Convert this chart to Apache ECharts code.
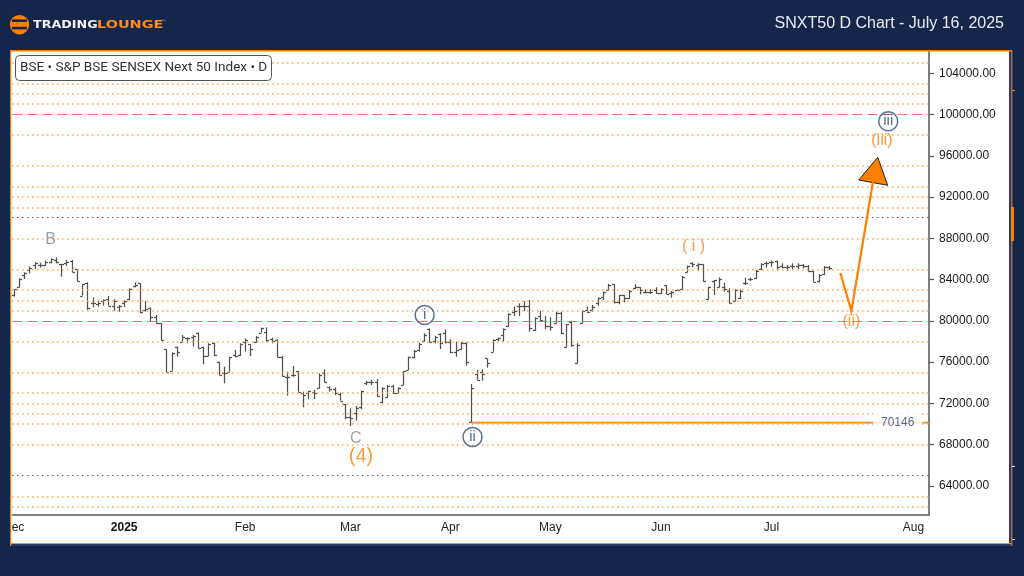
<!DOCTYPE html>
<html>
<head>
<meta charset="utf-8">
<style>html,body{margin:0;padding:0;background:#15264b}#c{width:1024px;height:576px}</style>
<script src="https://cdn.jsdelivr.net/npm/echarts@6/dist/echarts.min.js"></script>
</head>
<body>
<div id="c"></div>
<script>
// [open, high, low, close], one row per trading day
const ohlc = [
[82510,83060,82350,83060],[83250,84130,83250,84060],[84450,84710,84060,84610],[84930,85260,84610,85090],
[85420,85680,85030,85580],[85420,85640,85160,85420],[85420,85840,85350,85740],[85740,86060,85580,85970],
[85900,86160,85580,85680],[85510,85510,84290,85510],[85580,85900,85320,85740],[85840,85900,84710,84770],
[84990,85030,83830,83870],[82450,83540,82450,83540],[83640,83740,81060,81220],[81770,82280,81310,81700],
[81640,81960,81380,81770],[81930,82090,81480,81990],[82090,82410,81480,81480],[81480,82090,80960,81960],
[81350,81540,80890,81480],[81770,81990,81350,81930],[82090,83160,82020,83090],[83380,83740,83250,83480],
[83640,83640,80730,80830],[81060,81930,80890,81120],[81280,81310,79990,80410],[80410,80570,79770,79770],
[79770,79770,78090,78120],[77240,77240,75020,75020],[75180,76950,75180,76860],[77500,77500,76530,77020],
[77990,78630,77990,78410],[78310,78410,77830,78310],[78410,78630,77500,78570],[78800,78890,77340,77340],
[77500,77500,75790,76630],[76630,77830,76600,77760],[77830,77890,76630,76700],[76050,76050,74760,74760],
[74980,75560,73950,74980],[75080,76530,75080,76530],[76700,77180,76470,76600],[76700,77830,76630,77760],
[77990,78310,77020,78150],[77730,77730,76600,77240],[77920,78540,77920,78470],[78860,79340,78860,79280],
[78960,79380,77990,78150],[78210,78380,77830,78080],[78150,78210,76470,76530],[76530,76600,74600,74660],
[74600,75080,72760,74600],[74760,75630,74600,74760],[75150,75150,73140,73140],[73050,73140,71630,72820],
[73050,73240,72400,73240],[73080,73300,72430,72980],[73470,74920,73470,74760],[74920,75310,74050,74110],
[73560,73630,73140,73370],[73370,73560,72820,72980],[72880,73050,72270,72270],[71950,71950,70460,70720],
[70720,71530,69820,70560],[71040,71750,70330,71530],[71630,73240,71460,73240],[74020,74180,73790,74050],
[74110,74270,73790,74110],[74110,74340,72660,72760],[72110,73560,72010,73470],[72660,73790,72560,73690],
[73690,73790,72920,72980],[72980,73560,72980,73470],[73790,75150,73790,75150],[75240,76530,75240,76530],
[76470,77180,76370,77120],[77180,77890,77020,77760],[78080,78800,77990,78630],[79220,79280,77920,77990],
[78080,78540,77830,78410],[78730,78800,77280,77830],[78800,79180,77830,77990],[77990,78210,76860,77020],
[77020,77990,76530,77180],[77250,77990,77180,77890],[77890,77920,75660,75990],[70200,73890,70146,73470],
[74860,75240,74270,74270],[75080,75310,74210,74860],[76370,76370,75470,75890],[77020,78210,77020,78150],
[78210,78380,78050,78310],[78630,79280,77990,79180],[79510,80730,79440,80670],[80890,81380,80480,80990],
[81440,81700,80480,81480],[81480,81930,80960,81480],[81480,82030,78960,79340],[79120,80350,79050,80250],
[80480,80960,79990,80090],[80020,80480,79180,79540],[79540,80350,79050,79380],[79760,80890,79760,80800],
[80800,80890,78730,78800],[77440,79700,77440,79670],[79930,80020,77500,77660],[75890,77830,75890,77660],
[79760,81060,79760,80960],[81060,81380,80800,80890],[81060,81540,80890,81380],[81700,82280,81480,82190],
[82280,82830,82030,82770],[82990,83580,82930,83480],[83540,83540,81700,81800],[81800,82510,81610,82480],
[82480,82510,81800,82190],[82190,82990,82120,82930],[83160,83540,83090,83260],[83260,83260,82570,82990],
[82830,83060,82670,82830],[82830,83060,82610,82830],[82990,83260,82610,82670],[82670,83160,82610,83060],
[83480,83480,82570,82570],[82670,82900,82250,82830],[82960,83060,82900,82990],[83060,84350,83060,84290],
[84710,85350,84710,85350],[85580,85680,85190,85510],[85420,85580,84870,85510],[85480,85480,83800,83870],
[82120,83320,82090,83260],[83900,83960,82510,83960],[83320,84220,83260,84030],[83260,83700,82830,83060],
[82930,83160,81700,81770],[81930,83060,81930,82990],[82190,83060,82120,82930],[83640,84190,83480,83700],
[84030,84190,83870,84030],[84130,84930,84060,84870],[85000,85580,84930,85510],[85580,85740,85160,85580],
[85670,85840,85260,85740],[85810,85840,84930,85260],[85350,85580,85090,85260],[85260,85420,84870,85260],
[85350,85580,85030,85350],[85350,85580,85030,85420],[85420,85510,85090,85350],[85350,85420,84770,84870],
[84870,84870,83800,83800],[83900,84540,83740,84450],[84540,85320,84450,85260],[85260,85320,84930,85090]
];
const priceTicks = [64000,68000,72000,76000,80000,84000,88000,92000,96000,100000,104000];
const monthLabels = ['Dec','2025','Feb','Mar','Apr','May','Jun','Jul','Aug'];
const monthBars = [0,21,44,64,83,102,123,144,171];
const orangeLevels = [105000,103000,102000,101000,98000,95000,93000,92000,91000,88000,85000,83000,82000,81000,78000,75000,73000,72000,71000,70000,68000,63000,62000];
const redLevels = [100000,80000];
const blackLevels = [90000,65000];
const projection = [[157.1,84640],[159.2,80960],[163.3,93460]];
const arrowHead = [[164.2,95850],[160.6,93650],[166.1,93140]];
const invalidation = 70146;
const invalidationSpan = [87,174];
const invalidationLabelBar = 168;
const grayWave = [['B',7,87840],['C',65,68560]];
const orangeWave = [['( i )',129.2,87160],['(ii)',159.2,79890],['(iii)',165,97460]];
const degreeWave = [['(4)',66,66910]];
const circledWave = [['i',78.1,80570],['ii',87.2,68750],['iii',166.2,99350]];

const NAVY = '#15264b', ORANGE = '#ff7f00', SANS = '"Liberation Sans", Arial, sans-serif';

function levelSeries(levels, style) {
  return { type:'line', data:[], silent:true, z:1,
    markLine:{ silent:true, symbol:'none', animation:false, label:{show:false}, lineStyle:style,
      emphasis:{disabled:true}, data:levels.map(v=>({yAxis:v})) } };
}
function textSeries(rows, color, size) {
  return { type:'scatter', z:6, silent:true, symbolSize:0, clip:false,
    data:rows.map(r=>({value:[r[1],r[2]], text:r[0]})),
    label:{ show:true, position:'inside', color, fontSize:size, fontFamily:SANS,
      formatter:p=>p.data.text } };
}

const chart = echarts.init(document.getElementById('c'), null, {renderer:'canvas'});
chart.setOption({
  animation:false,
  backgroundColor:NAVY,
  grid:{left:11,right:95,top:51,bottom:61,containLabel:false},
  xAxis:{ type:'value', min:-0.25, max:173.95, splitLine:{show:false},
    axisLine:{show:true,onZero:false,lineStyle:{color:'#555',width:1.5}},
    axisTick:{show:false},
    axisLabel:{ customValues:monthBars, color:'#222', fontSize:12, fontFamily:SANS, margin:7, hideOverlap:false,
      formatter:v=>{ const s=monthLabels[monthBars.indexOf(v)]; return s==='2025' ? '{b|'+s+'}' : s; },
      rich:{b:{fontWeight:'bold',fontSize:12,color:'#111',fontFamily:SANS}} } },
  yAxis:{ type:'value', position:'right', min:61192, max:106153, splitLine:{show:false},
    axisLine:{show:true,onZero:false,lineStyle:{color:'#555',width:1.5}},
    axisTick:{show:true,customValues:priceTicks,length:5,lineStyle:{color:'#555',width:1.2}},
    axisLabel:{ customValues:priceTicks, color:'#1a1a1a', fontSize:12, fontFamily:SANS, margin:10,
      formatter:v=>v.toFixed(2) } },
  series:[
    levelSeries(orangeLevels,{color:'#ff9a3c',width:2,type:[1,4]}),
    levelSeries(redLevels,{color:'#ef6f6c',width:1.2,type:[10,5]}),
    levelSeries(blackLevels,{color:'#111',width:1.2,type:[1,4]}),
    { type:'custom', z:3, silent:true, clip:true,
      encode:{x:0,y:[1,2,3,4]},
      data:ohlc.map((r,i)=>[i,r[0],r[1],r[2],r[3]]),
      renderItem:(params,api)=>{
        const i=api.value(0);
        const o=api.coord([i,api.value(1)]), h=api.coord([i,api.value(2)]),
              l=api.coord([i,api.value(3)]), c=api.coord([i,api.value(4)]);
        const x=Math.round(h[0])+0.5, st={stroke:'#505050',lineWidth:1.25};
        const seg=(a,b,d,e)=>({type:'line',shape:{x1:a,y1:b,x2:d,y2:e},style:st});
        return {type:'group',children:[
          seg(x,h[1],x,l[1]),
          seg(x-2.5,Math.round(o[1])+0.5,x,Math.round(o[1])+0.5),
          seg(x,Math.round(c[1])+0.5,x+2.5,Math.round(c[1])+0.5)
        ]};
      } },
    { type:'line', z:4, silent:true, symbol:'none', data:invalidationSpan.map(b=>[b,invalidation]),
      lineStyle:{color:'#ff8a1e',width:1.6} },
    { type:'scatter', z:5, silent:true, symbolSize:0, data:[[invalidationLabelBar,invalidation]],
      label:{ show:true, position:'inside', formatter:String(invalidation), color:'#2c4377', fontSize:12, fontFamily:SANS,
        backgroundColor:'#fff', padding:[5,8] } },
    { type:'line', z:5, silent:true, symbol:'none', data:projection, lineStyle:{color:ORANGE,width:2.2,cap:'butt',join:'miter'} },
    { type:'custom', z:5, silent:true, clip:false, encode:{x:0,y:1}, data:arrowHead,
      renderItem:(params,api)=>{
        if(params.dataIndex!==0) return null;
        return {type:'polygon',shape:{points:arrowHead.map(p=>api.coord(p))},
          style:{fill:ORANGE,stroke:'#222',lineWidth:1}};
      } },
    { type:'scatter', z:6, silent:true, clip:false, symbol:'circle', symbolSize:19,
      itemStyle:{color:'rgba(255,255,255,0)',borderColor:'#2f4a7c',borderWidth:1.5},
      data:circledWave.map(r=>({value:[r[1],r[2]],text:r[0]})),
      label:{show:true,position:'inside',color:'#2f4a7c',fontSize:15,fontFamily:SANS,formatter:p=>p.data.text} },
    textSeries(grayWave,'#858a9a',16),
    textSeries(orangeWave,'#ff7f0e',16),
    textSeries(degreeWave,'#ff7f00',20)
  ],
  graphic:[
    {type:'rect',z:-10,shape:{x:11,y:51,width:998,height:492},style:{fill:'#fff'},silent:true},
    {type:'rect',z:100,shape:{x:0,y:51,width:10,height:500},style:{fill:NAVY},silent:true},
    {type:'rect',z:100,shape:{x:1009,y:51,width:2,height:495},style:{fill:'#2a3c66'},silent:true},
    {type:'rect',z:100,shape:{x:10,y:544,width:1000,height:2},style:{fill:'#2a3c66'},silent:true},
    {type:'rect',z:101,shape:{x:10,y:50,width:1002,height:1.5},style:{fill:ORANGE},silent:true},
    {type:'rect',z:101,shape:{x:10,y:50,width:1.2,height:496},style:{fill:ORANGE},silent:true},
    {type:'rect',z:101,shape:{x:10,y:543,width:1001,height:1},style:{fill:'#ff8a2a'},silent:true},
    {type:'rect',z:101,shape:{x:1011.3,y:50,width:1,height:496},style:{fill:'#ff8a2a'},silent:true},
    {type:'rect',z:101,shape:{x:1011,y:207,width:3,height:34},style:{fill:ORANGE},silent:true},
    {type:'rect',z:101,shape:{x:1012,y:90,width:3,height:1},style:{fill:ORANGE},silent:true},
    {type:'rect',z:101,shape:{x:1012,y:466,width:3,height:1},style:{fill:'#fff'},silent:true},
    {type:'rect',z:101,shape:{x:1012,y:539,width:3,height:1},style:{fill:'#fff'},silent:true},
    {type:'rect',z:50,shape:{x:15.5,y:55.5,width:256,height:25,r:4},style:{fill:'#fff',stroke:'#555',lineWidth:1},silent:true},
    {type:'text',z:51,x:20,y:68,silent:true,style:{text:'BSE • S&P BSE SENSEX Next 50 Index • D',fill:'#333',font:'13.55px Roboto',textVerticalAlign:'middle'}},
    {type:'text',z:51,x:1004,y:24,silent:true,style:{text:'SNXT50 D Chart - July 16, 2025',fill:'#e8ecf2',font:'16px "Liberation Sans"',textAlign:'right',textVerticalAlign:'middle'}},
    // logo
    {type:'circle',z:51,silent:true,shape:{cx:19.5,cy:24.7,r:9.7},style:{fill:ORANGE}},
    {type:'rect',z:52,silent:true,shape:{x:12,y:19.4,width:15,height:2.6},style:{fill:NAVY}},
    {type:'rect',z:52,silent:true,shape:{x:12,y:26.8,width:15,height:2.6},style:{fill:NAVY}},
    {type:'text',z:51,x:33,y:25,scaleX:1.27,silent:true,style:{text:'TRADING',fill:'#f4f4f4',font:'bold 10px "DejaVu Sans"',textVerticalAlign:'middle'}},
    {type:'text',z:51,x:97,y:25,scaleX:1.44,silent:true,style:{text:'LOUNGE',fill:'#ff8a1e',font:'bold 10px "DejaVu Sans"',textVerticalAlign:'middle'}},
    {type:'text',z:51,x:161,y:22,silent:true,style:{text:'™',fill:'#ff8a1e',font:'6px "DejaVu Sans"',textVerticalAlign:'middle'}}
  ]
});
</script>
</body>
</html>
